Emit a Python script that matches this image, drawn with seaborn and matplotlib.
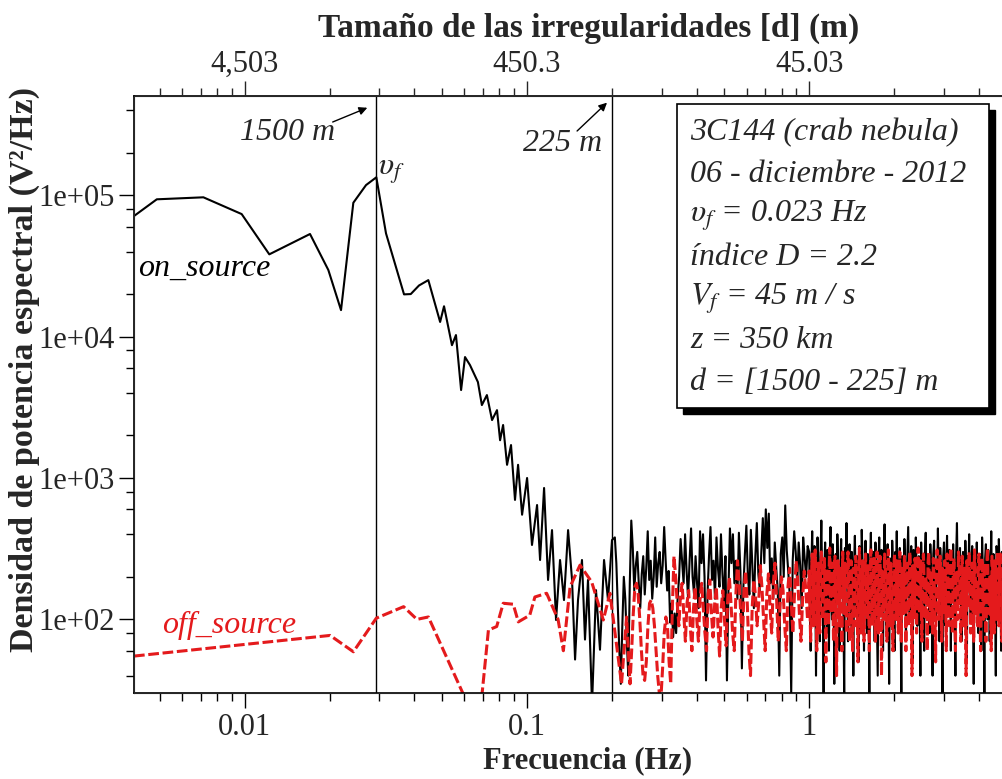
import numpy as np
import pandas as pd
import matplotlib
matplotlib.use("Agg")
import matplotlib.pyplot as plt
import seaborn as sns
from matplotlib.ticker import LogLocator, NullFormatter
from matplotlib.patches import Rectangle

# ---------------- data ----------------
# on_source: structured low-frequency part (Hz, V^2/Hz)
on_freq_low = [0.00406, 0.00489, 0.00715, 0.00977, 0.01224, 0.01706, 0.01981, 0.02197,
               0.02429, 0.02694, 0.02930, 0.03171, 0.03673, 0.03880, 0.04150, 0.04478,
               0.0493, 0.0509, 0.0543, 0.0561, 0.0585, 0.0604, 0.0629, 0.0671, 0.0693,
               0.0722, 0.0753, 0.0784, 0.0804, 0.0824, 0.0851, 0.0879, 0.0908, 0.0931,
               0.0962, 0.1002, 0.1043, 0.1087, 0.1114, 0.1151, 0.1189, 0.1228, 0.1269,
               0.1311, 0.1354, 0.1400, 0.1446, 0.1482, 0.1518, 0.1568, 0.1607, 0.1647,
               0.1702, 0.1758, 0.1816, 0.1877, 0.1939, 0.2003]
on_psd_low = [71300, 93600, 96700, 73600, 38200, 53200, 29600, 15400,
              88500, 118000, 133900, 53700, 19900, 20000, 23000, 25100,
              12700, 16400, 8700, 10260, 4190, 7170, 6290, 4770, 3280,
              3860, 2570, 3020, 1850, 2370, 1240, 1710, 700, 1240,
              550, 1000, 336, 644, 263, 850, 190, 428, 99,
              263, 137, 428, 190, 52, 137, 263, 72, 190,
              25, 161, 61, 263, 137, 364]
# on_source: noisy part 0.205 - 1 Hz
on_psd_mid = [
    380, 250, 120, 60, 35, 90, 200, 140, 70, 40,
    180, 500, 320, 160, 240, 300, 180, 120, 210, 280,
    150, 230, 420, 190, 260, 140, 200, 380, 170, 250,
    300, 180, 240, 450, 260, 160, 220, 95, 130, 75,
    110, 80, 140, 200, 370, 260, 180, 400, 220, 140,
    260, 440, 200, 150, 280, 180, 120, 420, 250, 400,
    200, 37, 150, 280, 450, 190, 260, 140, 380, 230,
    170, 400, 210, 130, 280, 37, 160, 440, 250, 400,
    180, 260, 140, 410, 220, 45, 170, 290, 460, 200,
    150, 430, 240, 120, 280, 480, 210, 160, 300, 520,
    250, 600, 320, 560, 180, 270, 140, 350, 230, 160,
    40, 290, 380, 200, 640, 310, 220, 150, 30, 260,
    420, 300, 180, 350, 240, 120, 380, 270, 200, 330]
# on_source: noisy part 1 - 5 Hz
on_psd_high = [
    300, 120, 60, 250, 420, 180, 90, 330, 200, 40,
    150, 380, 260, 110, 70, 290, 500, 210, 130, 30,
    240, 350, 170, 80, 310, 190, 60, 270, 450, 160,
    100, 340, 220, 35, 180, 290, 130, 400, 250, 90,
    60, 230, 370, 150, 280, 110, 30, 320, 210, 480,
    170, 70, 260, 340, 140, 90, 300, 190, 40, 250,
    390, 200, 120, 280, 160, 50, 330, 230, 100, 430,
    270, 150, 60, 210, 360, 180, 80, 290, 130, 30,
    240, 410, 190, 110, 300, 160, 70, 350, 220, 90,
    40, 260, 380, 170, 120, 310, 200, 60, 280, 470,
    190, 90, 230, 340, 140, 35, 270, 210, 100, 360,
    250, 130, 60, 300, 190, 420, 160, 80, 240, 320,
    110, 30, 280, 200, 140, 370, 230, 70, 190, 290,
    450, 170, 100, 260, 330, 150, 50, 310, 220, 120,
    380, 240, 90, 180, 280, 140, 40, 350, 200, 260,
    110, 60, 300, 410, 190, 130, 270, 210, 80, 340,
    230, 150, 40, 290, 360, 170, 100, 250, 190, 440,
    200, 70, 320, 240, 130, 30, 280, 350, 160, 90,
    260, 390, 180, 120, 310, 220, 60, 270, 150, 340,
    210, 100, 40, 290, 480, 190, 130, 250, 320, 160,
    70, 230, 300, 140, 90, 360, 210, 50, 280, 190,
    400, 170, 110, 260, 330, 150, 35, 300, 230, 120,
    350, 200, 80, 240, 290, 160, 60, 380, 220, 130,
    30, 270, 340, 180, 100, 310, 250, 70, 200, 420,
    160, 90, 290, 230, 140, 40, 330, 260, 110, 370,
    210, 150, 60, 300, 190, 450, 170, 90, 260, 320]

# off_source: structured low-frequency part
off_freq_low = [0.00406, 0.0201, 0.0243, 0.0293, 0.0366, 0.0408, 0.0448, 0.0603, 0.0692,
                0.0731, 0.0782, 0.0825, 0.0895, 0.0933, 0.1024, 0.1068, 0.1175, 0.1290,
                0.1347, 0.1423, 0.1543, 0.1697, 0.1866, 0.1970, 0.2165, 0.2256]
off_psd_low = [55, 77, 59, 102, 123, 100, 104, 28, 28,
               84, 89, 130, 128, 96, 107, 144, 153, 100,
               60, 170, 242, 184, 99, 153, 35, 104]
# off_source: noisy part 0.232 - 1 Hz
off_psd_mid = [
    35, 60, 110, 170, 180, 150, 100, 60, 40, 37,
    50, 90, 130, 137, 120, 90, 60, 40, 30, 28,
    45, 80, 104, 90, 50, 35, 120, 280, 200, 130,
    90, 150, 180, 110, 70, 130, 160, 90, 60, 120,
    170, 100, 70, 140, 180, 120, 80, 60, 150, 190,
    110, 75, 130, 170, 90, 55, 120, 160, 100, 65,
    140, 200, 130, 80, 60, 150, 260, 180, 110, 70,
    160, 220, 130, 60, 40, 120, 190, 150, 90, 130,
    240, 170, 100, 60, 150, 210, 120, 80, 180, 250,
    140, 70, 120, 200, 160, 90, 60, 170, 230, 130,
    80, 150, 260, 190, 110, 70, 140, 220, 160, 100]
# off_source: noisy part 1 - 5 Hz
off_psd_high = [
    220, 120, 70, 180, 290, 150, 90, 240, 310, 130,
    60, 170, 250, 110, 80, 210, 300, 160, 100, 190,
    270, 130, 50, 230, 180, 90, 200, 320, 150, 110,
    250, 140, 70, 190, 280, 120, 40, 210, 260, 150,
    90, 230, 170, 60, 300, 190, 110, 250, 140, 80,
    210, 300, 160, 70, 180, 260, 120, 60, 230, 170,
    90, 280, 200, 130, 50, 220, 320, 150, 80, 190,
    260, 140, 70, 200, 290, 170, 100, 240, 150, 60,
    210, 310, 180, 90, 190, 270, 130, 70, 230, 300,
    150, 80, 200, 280, 140, 40, 220, 180, 100, 290,
    240, 130, 70, 200, 310, 160, 90, 250, 180, 110,
    60, 220, 290, 150, 100, 260, 190, 80, 210, 300,
    140, 70, 230, 170, 110, 280, 200, 60, 180, 250,
    120, 90, 300, 220, 150, 40, 240, 190, 100, 270,
    160, 80, 210, 320, 170, 110, 260, 140, 70, 230,
    290, 180, 100, 200, 150, 60, 250, 300, 130, 90,
    220, 160, 80, 270, 190, 120, 50, 240, 310, 170,
    100, 200, 280, 140, 70, 230, 180, 110, 260, 150,
    60, 290, 210, 130, 90, 250, 320, 160, 80, 200,
    270, 140, 60, 220, 180, 100, 300, 240, 150, 70,
    190, 280, 130, 90, 230, 170, 40, 260, 210, 120,
    300, 180, 80, 200, 250, 140, 70, 310, 220, 110,
    160, 90, 240, 290, 150, 60, 210, 270, 130, 100,
    250, 190, 70, 230, 320, 170, 110, 200, 140, 60,
    280, 220, 120, 80, 260, 180, 100, 300, 160, 90,
    230, 290, 140, 70, 210, 250, 130, 60, 240, 310]

marker_freqs = [0.0293, 0.2]
bottom_ticks = [0.01, 0.1, 1]
bottom_labels = ["0.01", "0.1", "1"]
top_labels = ["4,503", "450.3", "45.03"]
y_ticks = [1e2, 1e3, 1e4, 1e5]
y_labels = ["1e+02", "1e+03", "1e+04", "1e+05"]
info_lines = ["3C144 (crab nebula)", "06 - diciembre - 2012", r"$\upsilon_f$ = 0.023 Hz",
              "índice D = 2.2", r"$V_f$ = 45 m / s", "z = 350 km", "d = [1500 - 225] m"]

on_f = np.concatenate([on_freq_low,
                       np.geomspace(0.205, 1.0, len(on_psd_mid), endpoint=False),
                       np.geomspace(1.0, 5.0, len(on_psd_high))])
on_v = np.concatenate([on_psd_low, on_psd_mid, on_psd_high])
off_f = np.concatenate([off_freq_low,
                        np.geomspace(0.232, 1.0, len(off_psd_mid), endpoint=False),
                        np.geomspace(1.0, 5.0, len(off_psd_high))])
off_v = np.concatenate([off_psd_low, off_psd_mid, off_psd_high])
df_on = pd.DataFrame({"f": on_f, "psd": on_v})
df_off = pd.DataFrame({"f": off_f, "psd": off_v})

# ---------------- style ----------------
sns.set_style("ticks")
plt.rcParams['font.family'] = ['Liberation Serif', 'DejaVu Serif']
plt.rcParams['mathtext.fontset'] = 'stix'

W, H = 1002, 779
fig = plt.figure(figsize=(W / 100, H / 100), dpi=100)
L, R, T, B = 134, 1004, 95.7, 693.3
ax = fig.add_axes([L / W, (H - B) / H, (R - L) / W, (B - T) / H])

sns.lineplot(data=df_on, x="f", y="psd", color="black", lw=1.5,
             estimator=None, sort=False, ax=ax)
sns.lineplot(data=df_off, x="f", y="psd", color="#e41a1c", lw=2.2,
             linestyle=(0, (3.5, 1.2)), estimator=None, sort=False, ax=ax)

ax.set_xscale("log")
ax.set_yscale("log")
ax.set_xlim(0.00406, 4.9)
ax.set_ylim(30, 5.06e5)

for fm in marker_freqs:
    ax.axvline(fm, color="black", lw=1.0, zorder=1)

ax.set_xticks(bottom_ticks, labels=bottom_labels)
ax.xaxis.set_minor_locator(LogLocator(base=10, subs=np.arange(2, 10), numticks=20))
ax.xaxis.set_minor_formatter(NullFormatter())
ax.set_yticks(y_ticks, labels=y_labels)
ax.yaxis.set_minor_locator(LogLocator(base=10, subs=(2, 4, 6, 8), numticks=20))
ax.yaxis.set_minor_formatter(NullFormatter())

ax.tick_params(which="major", length=11, width=1.0, labelsize=22, pad=3, color="black")
ax.tick_params(which="minor", length=6, width=1.0, color="black")
for s in ax.spines.values():
    s.set_linewidth(1.2)
    s.set_color("black")
ax.spines["right"].set_visible(False)

ax.set_xlabel("Frecuencia (Hz)", fontsize=22, fontweight="bold")
ax.xaxis.set_label_coords(0.521, -0.088)
ax.set_ylabel("Densidad de potencia espectral (V²/Hz)", fontsize=24.5, fontweight="bold")
ax.yaxis.set_label_coords(-0.108, 0.541)

# top axis: irregularity size d = Vf / f
ax2 = ax.twiny()
ax2.set_xscale("log")
ax2.set_xlim(ax.get_xlim())
ax2.set_xticks(bottom_ticks, labels=top_labels)
ax2.xaxis.set_minor_locator(LogLocator(base=10, subs=np.arange(2, 10), numticks=20))
ax2.xaxis.set_minor_formatter(NullFormatter())
ax2.tick_params(which="major", length=11, width=1.0, labelsize=22, pad=1)
ax2.tick_params(which="minor", length=6, width=1.0)
ax2.spines["right"].set_visible(False)
ax2.set_xlabel("Tamaño de las irregularidades [d] (m)", fontsize=24, fontweight="bold")
ax2.xaxis.set_label_coords(0.523, 1.099)

# annotations
ann_font = dict(fontsize=23, fontstyle="italic")
ax.text(0.01415, 2.77e5, "1500 m", ha="center", va="center", **ann_font)
ax.annotate("", xy=(0.0278, 4.23e5), xytext=(0.0201, 3.24e5),
            arrowprops=dict(arrowstyle="-|>", lw=1.0, color="black", mutation_scale=12))
ax.text(0.1343, 2.34e5, "225 m", ha="center", va="center", **ann_font)
ax.annotate("", xy=(0.1955, 4.66e5), xytext=(0.1482, 2.76e5),
            arrowprops=dict(arrowstyle="-|>", lw=1.0, color="black", mutation_scale=12))
ax.text(0.0298, 1.47e5, r"$\upsilon_f$", ha="left", va="center", fontsize=23)
ax.text(0.0042, 30600, "on_source", ha="left", va="center", color="black", **ann_font)
ax.text(0.00509, 91, "off_source", ha="left", va="center", color="#e41a1c", **ann_font)

# info box with shadow (figure pixel layout)
bx0, by0, bx1, by1 = 677, 104, 989, 408
fig.patches.append(Rectangle(((bx0 + 6) / W, (H - by1 - 6) / H), (bx1 - bx0) / W, (by1 - by0) / H,
                             transform=fig.transFigure, facecolor="black", edgecolor="black", zorder=5))
fig.patches.append(Rectangle((bx0 / W, (H - by1) / H), (bx1 - bx0) / W, (by1 - by0) / H,
                             transform=fig.transFigure, facecolor="white", edgecolor="black",
                             lw=1.2, zorder=6))
for i, line in enumerate(info_lines):
    fig.text(690 / W, (H - (133 + 41.5 * i)) / H, line, ha="left", va="center",
             fontsize=23, fontstyle="italic", zorder=7)

fig.savefig("out.png", dpi=100)
